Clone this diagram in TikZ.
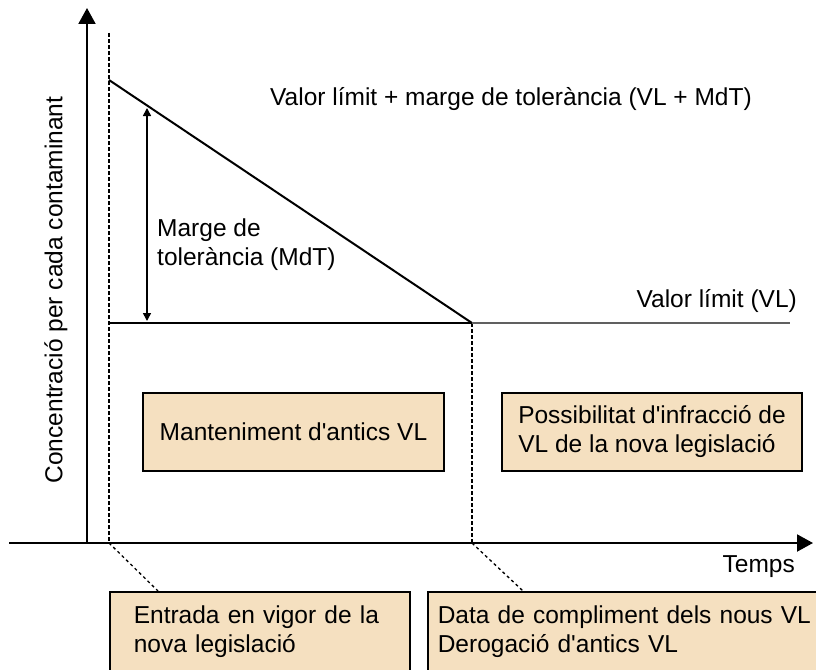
\documentclass[tikz,border=0pt]{standalone}
\usepackage{fontspec}
\setmainfont{Liberation Sans}[Ligatures=TeXOff]
\usetikzlibrary{arrows.meta}
\definecolor{boxfill}{RGB}{245,224,192}
\definecolor{limitgray}{RGB}{96,96,96}

\begin{document}
\begin{tikzpicture}[x=1pt, y=-1pt,
    font=\fontsize{24.5}{29}\selectfont,
    axis/.style={line width=2pt, -{Triangle[length=16pt,width=17pt]}},
    guide/.style={line width=1.3pt, dash pattern=on 4pt off 2pt},
    leader/.style={line width=1.3pt, dash pattern=on 3pt off 3pt},
    curve/.style={line width=2pt},
    infobox/.style={draw, line width=1.6pt, fill=boxfill, inner sep=0pt},
    txt/.style={inner sep=0pt}]
  \clip (0,0) rectangle (816,669);

  % axes
  \coordinate (O) at (87,543);
  \coordinate (ytop) at (87,8);
  \coordinate (xleft) at (9,543);
  \coordinate (xright) at (813,543);
  \draw[axis] (O) -- (ytop);
  \draw[axis] (xleft) -- (xright);

  % dates
  \coordinate (t0top) at (109,33);
  \coordinate (t0) at (109,543);
  \coordinate (t1) at (472,543);
  \coordinate (mdt0) at (109,80);
  \coordinate (vl0) at (109,323);
  \coordinate (vl1) at (472,323);
  \coordinate (vlend) at (790,323);
  \draw[guide] (t0top) -- (t0);
  \draw[guide] (vl1) -- (t1);

  % limit values
  \draw[curve] (mdt0) -- (vl1);
  \draw[curve] (vl0) -- (vl1);
  \draw[curve, limitgray, line width=2.4pt] (vl1) -- (vlend);

  % margin
  \coordinate (mdttop) at (147,108);
  \coordinate (mdtbot) at (147,321);
  \draw[line width=1.6pt, {Triangle[length=8pt,width=8pt]}-{Triangle[length=8pt,width=8pt]}] (mdttop) -- (mdtbot);

  \node[txt, anchor=base] (lvlmdt) at (511,105) {Valor límit + marge de tolerància (VL + MdT)};
  \node[txt, anchor=base east] (lvl) at (797,307) {Valor límit (VL)};
  \node[txt, anchor=west, align=left] (lmdt) at (157,245) {Marge de\\tolerància (MdT)};
  \node[txt, rotate=90] (lconc) at (56,290) {Concentració per cada contaminant};
  \node[txt, anchor=base east] (ltemps) at (795,572) {Temps};

  % periods
  \node[infobox, minimum width=301pt, minimum height=78pt] (vmanteniment) at (293.5,432) {Manteniment d'antics VL};
  \node[infobox, minimum width=300pt, minimum height=78pt, align=left] (vinfraccio) at (652,432) {Possibilitat d'infracció de\\VL de la nova legislació};

  % leaders to the dates
  \coordinate (c0) at (158,591);
  \coordinate (c1) at (523,591);
  \draw[leader] (t0) -- (c0);
  \draw[leader] (t1) -- (c1);
  \node[infobox, anchor=north west, inner xsep=24pt, inner ysep=14pt, text width=252pt, align=left] (ventrada) at (109,591) {Entrada en vigor de la\\nova legislació};
  \node[infobox, anchor=north west, inner xsep=10pt, inner ysep=14pt, text width=380pt, align=left] (vdata) at (427,591) {Data de compliment dels nous VL\\Derogació d'antics VL};
\end{tikzpicture}
\end{document}
